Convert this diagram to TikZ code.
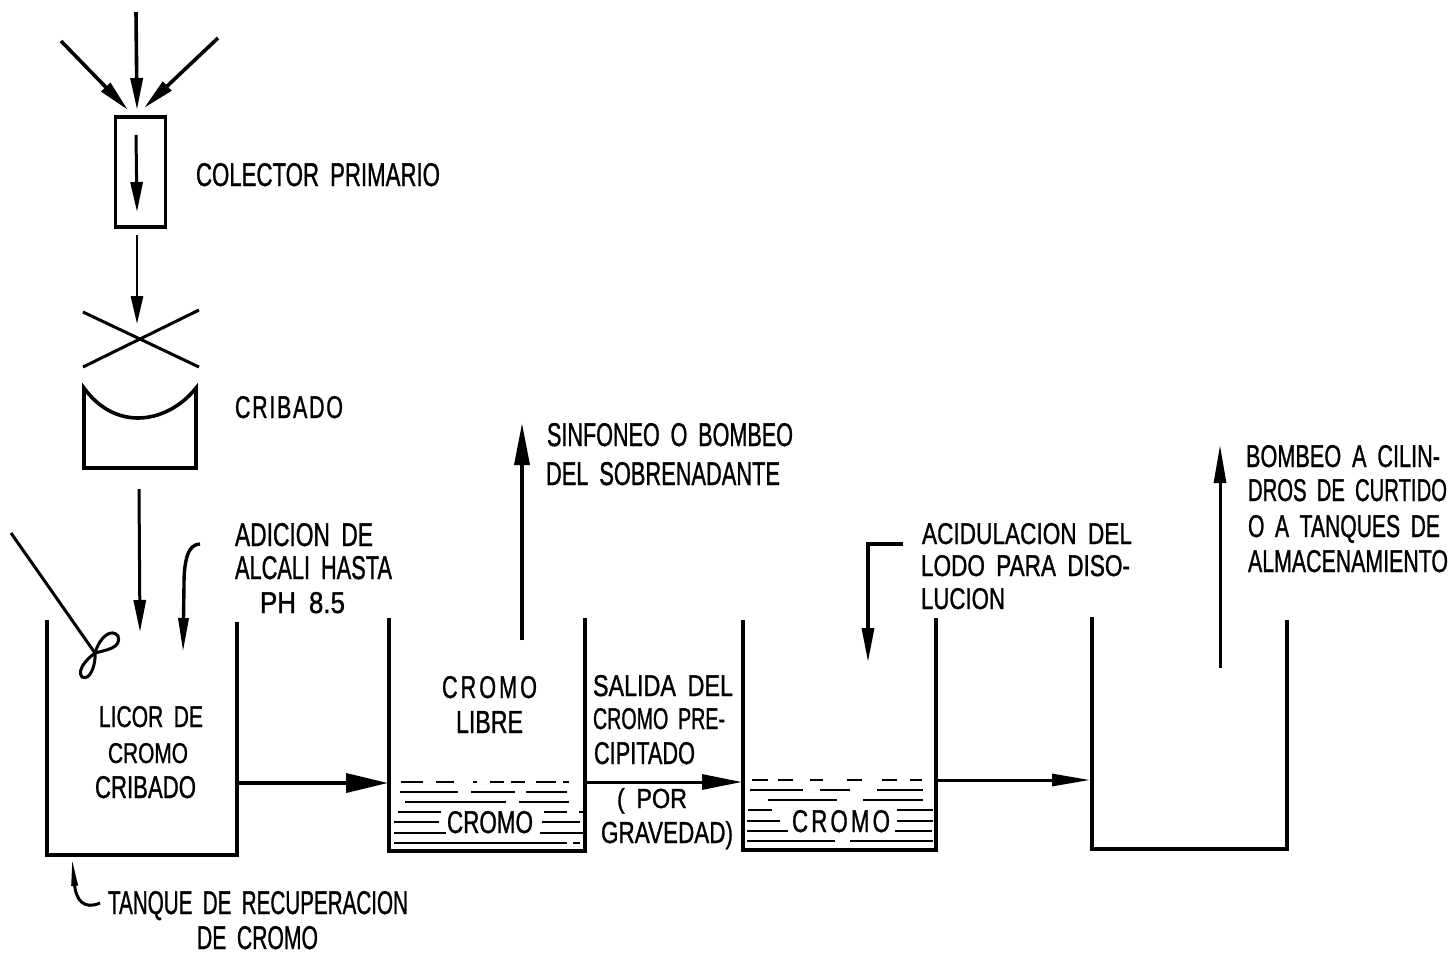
\documentclass[tikz,border=0pt]{standalone}
\usepackage{graphicx}
\usepackage{fontspec}
\setmainfont{Liberation Sans}
\usetikzlibrary{arrows.meta}
\newcommand{\fitw}[3]{\resizebox{#1pt}{#2pt}{\fontsize{30}{30}\selectfont\addfontfeature{FakeBold=1.2}\spaceskip=0.5em\relax #3}}
\newcommand{\fits}[4][14]{\resizebox{#2pt}{#3pt}{\fontsize{30}{30}\selectfont\addfontfeature{FakeBold=1.2,LetterSpace=#1}#4}}
\definecolor{ink}{gray}{0}
\tikzset{
  lbl/.style={anchor=base west,inner sep=0pt,outer sep=0pt,text=ink},
  wall/.style={draw=ink,line width=4pt,line cap=butt,line join=miter},
  thinwall/.style={draw=ink,line width=3pt},
  flow/.style={draw=ink,line width=2.8pt,-{Triangle[length=28pt,width=12pt]}},
  flowbig/.style={draw=ink,line width=3.6pt,-{Triangle[length=42pt,width=19pt]}},
  flowmid/.style={draw=ink,line width=3pt,-{Triangle[length=40pt,width=15pt]}},
  flowlong/.style={draw=ink,line width=3.6pt,-{Triangle[length=32pt,width=12pt]}},
  sed/.style={draw=ink,line width=2pt},
}
\begin{document}
\begin{tikzpicture}[x=1pt,y=-1pt]
\useasboundingbox[fill=white] (0,0) rectangle (1450,954);
% inflow
\coordinate (inL) at (61,41); \coordinate (inLe) at (128,110);
\coordinate (inC) at (136,12); \coordinate (inCe) at (137,110);
\coordinate (inR) at (218,38); \coordinate (inRe) at (144,108);
\draw[flowlong] (inL) -- (inLe);
\draw[flowlong] (inC) -- (inCe);
\draw[flowlong] (inR) -- (inRe);
% collector
\node[draw=ink,line width=3.6pt,minimum width=50pt,minimum height=110pt,inner sep=0pt] (col) at (140.5,172) {};
\coordinate (colA) at (136,135); \coordinate (colB) at (137,212);
\draw[flow,line width=3pt,-{Triangle[length=30pt,width=12pt]}] (colA) -- (colB);
\coordinate (colOut) at (137,235); \coordinate (xTop) at (137,324);
\draw[flow] (colOut) -- (xTop);
% cross
\coordinate (xa) at (83,367); \coordinate (xb) at (199,310);
\coordinate (xc) at (83,312); \coordinate (xd) at (199,367);
\draw[thinwall] (xa) -- (xb);
\draw[thinwall] (xc) -- (xd);
% screen
\coordinate (sa) at (84,388); \coordinate (sb) at (196,388);
\draw[wall,line width=3.6pt] (sa) .. controls (100,410) and (120,418) .. (138,418) .. controls (158,418) and (180,408) .. (sb)
  -- (196,468) -- (84,468) -- cycle;
\coordinate (scrOut) at (139,489); \coordinate (t1in) at (140,632);
\draw[flow,line width=3pt,-{Triangle[length=32pt,width=12pt]}] (scrOut) -- (t1in);
% tanks
\draw[wall] (47,620) -- (47,855) -- (237,855) -- (237,622);
\draw[wall] (389,618) -- (389,851) -- (585,851) -- (585,618);
\draw[wall] (743,620) -- (743,850) -- (936,850) -- (936,618);
\draw[wall] (1092,617) -- (1092,849) -- (1287,849) -- (1287,620);
% stirrer
\coordinate (paddleTop) at (11,533); \coordinate (hub) at (95,653);
\draw[draw=ink,line width=3pt] (paddleTop) -- (hub);
\draw[draw=ink,line width=3pt] (hub) .. controls (100,636) and (112,628) .. (118,636) .. controls (122,648) and (106,650) .. (hub)
  .. controls (88,658) and (76,670) .. (82,677) .. controls (90,681) and (96,665) .. (hub);
% alkali
\coordinate (alkA) at (200,544); \coordinate (alkB) at (183,652);
\draw[flow,line width=3.4pt,-{Triangle[length=34pt,width=10pt]}] (alkA) .. controls (188,544) and (184,560) .. (184,585) -- (alkB);
% pipes
\coordinate (o1) at (239,783); \coordinate (i2) at (388,783);
\draw[flowbig] (o1) -- (i2);
\coordinate (upA) at (522,640); \coordinate (upB) at (522,423);
\draw[flow,line width=3.6pt,-{Triangle[length=42pt,width=15pt]}] (upA) -- (upB);
\coordinate (o2) at (587,782); \coordinate (i3) at (742,782);
\draw[flowmid] (o2) -- (i3);
\coordinate (o3) at (938,780); \coordinate (i4) at (1090,780);
\draw[draw=ink,line width=3pt,-{Triangle[length=38pt,width=12pt]}] (o3) -- (i4);
\coordinate (acA) at (903,544); \coordinate (acB) at (868,662);
\draw[flow,line width=3.4pt,-{Triangle[length=34pt,width=12pt]}] (acA) -- (868,544) -- (acB);
\coordinate (up4A) at (1220,668); \coordinate (up4B) at (1220,445);
\draw[flow,line width=3pt,-{Triangle[length=38pt,width=12pt]}] (up4A) -- (up4B);
% callout
\coordinate (calA) at (100,903); \coordinate (calB) at (72,858);
\draw[draw=ink,line width=3pt,-{Triangle[length=28pt,width=6pt]}] (calA) .. controls (84,910) and (76,900) .. (calB);
% sediment tank 2
\foreach \y/\segs in {
 782/{401/423,436/454,473/477,490/504,511/525,536/556,563/569},
 792/{400/458,471/515,526/567},
 802/{405/506,519/569},
 812/{398/441,544/567,579/584},
 822/{394/439,542/580},
 833/{394/446,540/584},
 843/{394/567,573/580}}{
  \foreach \a/\b in \segs {\draw[sed] (\a,\y) -- (\b,\y);}
}
% sediment tank 3
\foreach \y/\segs in {
 780/{752/768,778/793,810/823,847/862,882/897,910/922},
 790/{750/803,820/850,877/923},
 800/{768/837,863/923},
 810/{748/772,897/933},
 821/{747/780,897/933},
 831/{747/788,895/932},
 841/{747/835,850/933}}{
  \foreach \a/\b in \segs {\draw[sed] (\a,\y) -- (\b,\y);}
}
% labels
\node[lbl] (l1) at (196,186) {\fitw{244}{23}{COLECTOR PRIMARIO}};
\node[lbl] (l2) at (235,418) {\fits[8]{108}{22}{CRIBADO}};
\node[lbl] (l3) at (547,446) {\fitw{246}{23}{SINFONEO O BOMBEO}};
\node[lbl] (l4) at (546,485) {\fitw{234}{23}{DEL SOBRENADANTE}};
\node[lbl] (l5) at (235,546) {\fitw{138}{23}{ADICION DE}};
\node[lbl] (l6) at (235,579) {\fitw{157}{23}{ALCALI HASTA}};
\node[lbl] (l7) at (260,613) {\fitw{85}{21}{PH 8.5}};
\node[lbl] (l8) at (99,727) {\fitw{104}{21}{LICOR DE}};
\node[lbl] (l9) at (108,763) {\fitw{80}{20}{CROMO}};
\node[lbl] (l10) at (95,798) {\fitw{101}{22}{CRIBADO}};
\node[lbl] (l11) at (442,698) {\fits{95}{22}{CROMO}};
\node[lbl] (l12) at (456,733) {\fitw{67}{22}{LIBRE}};
\node[lbl] (l13) at (447,833) {\fitw{86}{22}{CROMO}};
\node[lbl] (l14) at (593,696) {\fitw{140}{21}{SALIDA DEL}};
\node[lbl] (l15) at (593,729) {\fitw{132}{21}{CROMO PRE-}};
\node[lbl] (l16) at (594,764) {\fitw{101}{22}{CIPITADO}};
\node[lbl] (l17) at (617,808) {\fitw{70}{20}{( POR}};
\node[lbl] (l18) at (601,843) {\fitw{132}{22}{GRAVEDAD)}};
\node[lbl] (l19) at (792,832) {\fits{98}{22}{CROMO}};
\node[lbl] (l20) at (922,544) {\fitw{210}{21}{ACIDULACION DEL}};
\node[lbl] (l21) at (921,576) {\fitw{209}{21}{LODO PARA DISO-}};
\node[lbl] (l22) at (921,609) {\fitw{84}{21}{LUCION}};
\node[lbl] (l23) at (1246,467) {\fitw{194}{22}{BOMBEO A CILIN-}};
\node[lbl] (l24) at (1248,501) {\fitw{199}{22}{DROS DE CURTIDO}};
\node[lbl] (l25) at (1248,537) {\fitw{192}{22}{O A TANQUES DE}};
\node[lbl] (l26) at (1248,572) {\fitw{200}{22}{ALMACENAMIENTO}};
\node[lbl] (l27) at (108,914) {\fitw{300}{23}{TANQUE DE RECUPERACION}};
\node[lbl] (l28) at (197,949) {\fitw{121}{23}{DE CROMO}};
\end{tikzpicture}
\end{document}
